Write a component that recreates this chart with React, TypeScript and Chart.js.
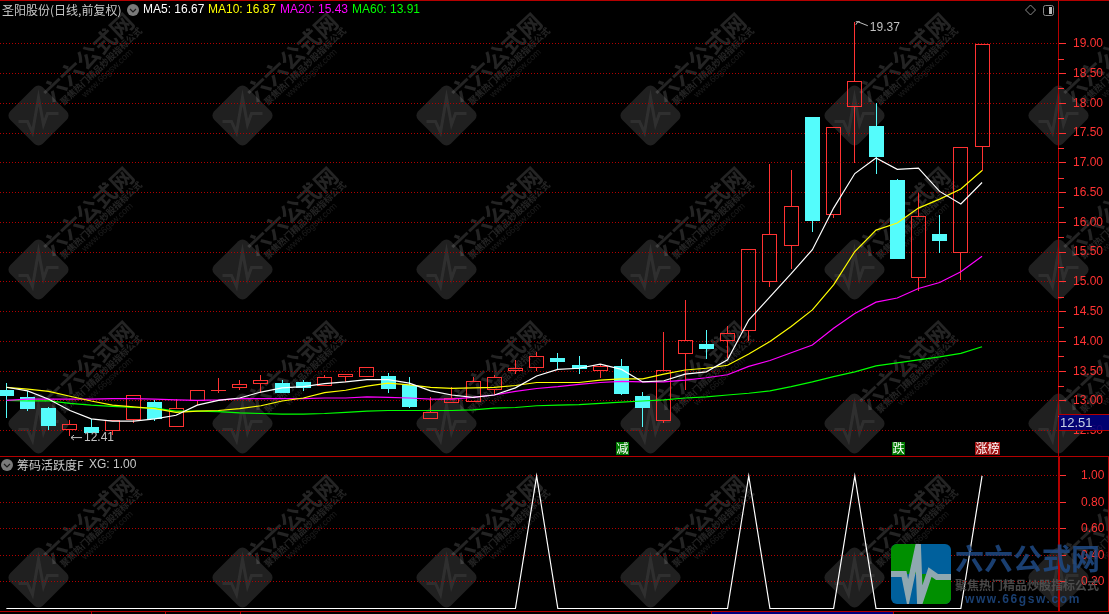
import React, { useEffect, useRef } from "react";
import { Chart, registerables } from "chart.js";

Chart.register(...registerables);

const STOCK_TITLE = "圣阳股份(日线,前复权)";
const SUB_TITLE = "筹码活跃度F";

// one value per trading day, left to right
const opens = [13.19, 13.06, 12.88, 12.52, 12.56, 12.5, 12.68, 12.98, 12.57, 13.0, 13.16, 13.21, 13.28, 13.3, 13.32, 13.25, 13.41, 13.41, 13.42, 13.27, 12.7, 12.97, 12.99, 13.19, 13.5, 13.55, 13.72, 13.6, 13.5, 13.59, 13.08, 12.67, 13.79, 13.96, 14.0, 14.17, 15.0, 15.61, 17.77, 16.12, 17.93, 17.62, 16.71, 15.06, 15.8, 15.49, 17.26];
const closes = [13.09, 12.87, 12.58, 12.61, 12.46, 12.68, 13.1, 12.7, 12.88, 13.18, 13.18, 13.28, 13.36, 13.14, 13.21, 13.41, 13.45, 13.57, 13.2, 12.9, 12.81, 13.05, 13.33, 13.4, 13.55, 13.75, 13.66, 13.53, 13.58, 13.12, 12.88, 13.52, 14.02, 13.87, 14.14, 15.55, 15.8, 16.27, 16.03, 17.61, 18.37, 17.1, 15.39, 16.1, 15.69, 17.27, 18.99];
const highs = [13.31, 13.17, 12.9, 12.68, 12.7, 12.68, 13.1, 13.02, 13.03, 13.18, 13.39, 13.35, 13.44, 13.36, 13.35, 13.44, 13.45, 13.57, 13.47, 13.4, 13.07, 13.24, 13.4, 13.44, 13.69, 13.82, 13.8, 13.76, 13.62, 13.71, 13.15, 14.16, 14.7, 14.19, 14.26, 15.55, 16.98, 16.88, 17.77, 17.61, 19.37, 18.0, 16.73, 16.49, 16.12, 17.27, 18.99];
const lows = [12.72, 12.84, 12.51, 12.41, 12.46, 12.43, 12.63, 12.66, 12.57, 12.93, 13.13, 13.18, 13.14, 13.14, 13.16, 13.25, 13.32, 13.41, 13.14, 12.88, 12.7, 12.97, 12.99, 13.11, 13.46, 13.51, 13.53, 13.46, 13.39, 13.1, 12.56, 12.63, 13.18, 13.71, 13.72, 14.01, 14.91, 15.22, 15.84, 16.07, 16.99, 16.82, 15.39, 14.85, 15.49, 15.03, 16.87];

const ma5 = [13.23, 13.17, 13.03, 12.84, 12.7, 12.66, 12.66, 12.7, 12.76, 12.93, 13.01, 13.05, 13.15, 13.22, 13.24, 13.29, 13.32, 13.36, 13.36, 13.3, 13.17, 13.1, 13.06, 13.1, 13.22, 13.42, 13.53, 13.55, 13.62, 13.53, 13.32, 13.34, 13.45, 13.49, 13.69, 14.36, 14.75, 15.14, 15.54, 16.24, 16.82, 17.08, 16.89, 16.91, 16.52, 16.31, 16.67];
const ma10 = [13.23, 13.2, 13.16, 13.08, 13.0, 12.93, 12.9, 12.87, 12.81, 12.83, 12.84, 12.87, 12.92, 13.0, 13.05, 13.14, 13.18, 13.25, 13.3, 13.27, 13.23, 13.21, 13.22, 13.23, 13.26, 13.31, 13.31, 13.31, 13.35, 13.37, 13.37, 13.45, 13.52, 13.55, 13.6, 13.79, 14.0, 14.25, 14.53, 14.95, 15.51, 15.87, 15.99, 16.24, 16.39, 16.56, 16.87];
const ma20 = [13.01, 13.03, 13.03, 13.03, 13.03, 13.04, 13.04, 13.03, 13.02, 13.01, 13.02, 13.04, 13.04, 13.04, 13.04, 13.05, 13.05, 13.07, 13.06, 13.05, 13.03, 13.03, 13.06, 13.1, 13.16, 13.21, 13.24, 13.28, 13.31, 13.33, 13.32, 13.32, 13.35, 13.39, 13.44, 13.58, 13.68, 13.81, 13.94, 14.22, 14.47, 14.66, 14.73, 14.89, 14.99, 15.17, 15.43];
const ma60 = [13.01, 13.0, 13.0, 12.96, 12.93, 12.91, 12.89, 12.88, 12.83, 12.83, 12.82, 12.8, 12.79, 12.78, 12.78, 12.79, 12.81, 12.83, 12.84, 12.84, 12.84, 12.84, 12.85, 12.88, 12.89, 12.92, 12.93, 12.94, 12.96, 12.98, 13.0, 13.02, 13.05, 13.07, 13.1, 13.13, 13.17, 13.24, 13.32, 13.41, 13.49, 13.59, 13.64, 13.69, 13.74, 13.8, 13.91];
const xg = [0, 0, 0, 0, 0, 0, 0, 0, 0, 0, 0, 0, 0, 0, 0, 0, 0, 0, 0, 0, 0, 0, 0, 0, 0, 1, 0, 0, 0, 0, 0, 0, 0, 0, 0, 1, 0, 0, 0, 0, 1, 0, 0, 0, 0, 0, 1];

const priceTicks = [12.5, 13, 13.5, 14, 14.5, 15, 15.5, 16, 16.5, 17, 17.5, 18, 18.5, 19];
const priceMinorTicks = [12.75, 13.25, 13.75, 14.25, 14.75, 15.25, 15.75, 16.25, 16.75, 17.25, 17.75, 18.25, 18.75];
const subTicks = [0.2, 0.4, 0.6, 0.8, 1.0];
const latestPriceTag = 12.51;
const signalTags = [
  { day: 29, text: "减", bg: "#007a00", w: 13 },
  { day: 42, text: "跌", bg: "#007a00", w: 13 },
  { day: 46, text: "涨榜", bg: "#a01414", w: 25 },
];

const RED = "#ff3232";
const CYAN = "#54fcfc";
const LINE_RED = "#b40000";
const GRID_RED = "#b00000";
const CJK = '"Noto Sans CJK SC"';
const LATIN = '"Liberation Sans"';
const days = opens.map((_, i) => i);
const isUp = (i: number) => closes[i] >= opens[i];
const candleColor = (i: number) => (isUp(i) ? RED : CYAN);
const pts = (v: number[]) => v.map((y, x) => ({ x, y }));

const snapBars = {
  id: "snapBars",
  afterDatasetsUpdate(chart: any) {
    chart.data.datasets.forEach((ds: any, d: number) => {
      if (ds.type !== "bar") return;
      chart.getDatasetMeta(d).data.forEach((el: any) => {
        el.x = Math.round(el.x - 0.5) + 0.5;
        el.y = Math.round(el.y);
        el.base = Math.round(el.base);
      });
    });
  },
};

function text(ctx: any, s: string, x: number, y: number, color: string, font: string) {
  ctx.fillStyle = color;
  ctx.font = font;
  ctx.textAlign = "left";
  ctx.textBaseline = "middle";
  ctx.fillText(s, x, y);
}

function rrect(ctx: any, x: number, y: number, w: number, h: number, r: number) {
  ctx.beginPath();
  ctx.roundRect(x, y, w, h, r);
}

function drawWatermark(ctx: any, cx: number, cy: number) {
  ctx.save();
  ctx.translate(cx, cy);
  ctx.save();
  ctx.rotate(-Math.PI / 4);
  rrect(ctx, -23, -23, 46, 46, 6);
  ctx.fillStyle = "rgba(255,255,255,0.125)";
  ctx.fill();
  ctx.restore();
  ctx.strokeStyle = "rgba(255,255,255,0.07)";
  ctx.lineWidth = 3;
  ctx.beginPath();
  ctx.moveTo(-20, 6);
  ctx.lineTo(-11, 6);
  ctx.lineTo(-6, 17);
  ctx.lineTo(0, -18);
  ctx.lineTo(5, 9);
  ctx.lineTo(9, -2);
  ctx.lineTo(20, -2);
  ctx.stroke();
  const label = (s: string, dx: number, dy: number, font: string, a: number) => {
    ctx.save();
    ctx.translate(dx, dy);
    ctx.rotate(-Math.PI * 0.24);
    ctx.fillStyle = `rgba(255,255,255,${a})`;
    ctx.font = font;
    ctx.textAlign = "center";
    ctx.textBaseline = "middle";
    ctx.fillText(s, 0, 0);
    ctx.restore();
  };
  label("六六公式网", 49.5, -58.5, `bold 23px ${CJK}`, 0.14);
  label("聚焦热门精品炒股指标公式", 62.5, -49.5, `bold 9px ${CJK}`, 0.14);
  label("www.66gsw.com", 69, -42, `9px ${LATIN}`, 0.1);
  ctx.restore();
}

function drawLogo(ctx: any) {
  const x = 891, y = 544, s = 60;
  ctx.save();
  rrect(ctx, x, y, s, s, 6);
  ctx.clip();
  ctx.fillStyle = "#00609c";
  ctx.fillRect(x, y, s, s);
  ctx.fillStyle = "#008f00";
  ctx.fillRect(x, y, 26, 30);
  ctx.fillRect(x + 26, y + 30, 34, 30);
  ctx.strokeStyle = "#8fa8b0";
  ctx.lineWidth = 6;
  ctx.beginPath();
  ctx.moveTo(x - 2, y + 30);
  ctx.lineTo(x + 13, y + 30);
  ctx.lineTo(x + 17, y + 50);
  ctx.lineTo(x + 27, y + 3);
  ctx.lineTo(x + 29, y + 58);
  ctx.lineTo(x + 39, y + 28);
  ctx.lineTo(x + 46, y + 33);
  ctx.lineTo(x + 62, y + 33);
  ctx.stroke();
  ctx.restore();
  ctx.save();
  ctx.globalAlpha = 0.85;
  text(ctx, "六六公式网", 955, 559, "#1f4a85", `bold 29px ${CJK}`);
  text(ctx, "聚焦热门精品炒股指标公式", 955, 585, "#555555", `bold 12px ${CJK}`);
  ctx.letterSpacing = "1.6px";
  text(ctx, "www.66gsw.com", 965, 600, "#1f4a85", `bold 12px ${LATIN}`);
  ctx.letterSpacing = "0px";
  ctx.restore();
}

const overlay = {
  id: "overlay",
  afterDraw(chart: any) {
    const { ctx, width, scales } = chart;
    const { x: xs, y: ys } = scales;
    ctx.save();

    // frame
    ctx.fillStyle = LINE_RED;
    ctx.fillRect(0, 0, width, 1);
    ctx.fillRect(0, 456, width, 1);
    ctx.fillRect(0, 611, width, 1);
    ctx.fillRect(1059, 457, 1, 154);
    ctx.fillRect(1108, 457, 1, 154);
    ctx.fillRect(1058, 0, 1, 611);
    [91, 165, 240, 711, 893].forEach((tx) => ctx.fillRect(tx, 611, 1, 3));
    ctx.fillStyle = "#00007c";
    ctx.fillRect(712, 612, 181, 2);

    // minor ticks on the price axis
    ctx.fillStyle = RED;
    priceMinorTicks.forEach((v) => ctx.fillRect(1058, Math.round(ys.getPixelForValue(v)), 6, 1));

    // legend rows
    text(ctx, STOCK_TITLE, 2, 10, "#c8c8c8", `12px ${CJK}`);
    const chevron = (cx: number, cy: number) => {
      ctx.fillStyle = "#7a7a7a";
      ctx.beginPath();
      ctx.arc(cx, cy, 6, 0, Math.PI * 2);
      ctx.fill();
      ctx.strokeStyle = "#1c1c1c";
      ctx.lineWidth = 1.2;
      ctx.beginPath();
      ctx.moveTo(cx - 3, cy - 1);
      ctx.lineTo(cx, cy + 2);
      ctx.lineTo(cx + 3, cy - 1);
      ctx.stroke();
    };
    chevron(133, 10);
    chevron(7, 465);
    const f = `12px ${LATIN}`;
    text(ctx, `MA5: ${ma5[46].toFixed(2)}`, 143, 10, "#ffffff", f);
    text(ctx, `MA10: ${ma10[46].toFixed(2)}`, 208, 10, "#ffff00", f);
    text(ctx, `MA20: ${ma20[46].toFixed(2)}`, 280, 10, "#ff00ff", f);
    text(ctx, `MA60: ${ma60[46].toFixed(2)}`, 352, 10, "#00ff00", f);
    text(ctx, SUB_TITLE, 17, 465, "#c8c8c8", `12px ${CJK}`);
    text(ctx, `XG: ${xg[46].toFixed(2)}`, 89, 465, "#c8c8c8", f);

    // top-right icons
    ctx.strokeStyle = "#8a8a8a";
    ctx.lineWidth = 1;
    ctx.beginPath();
    ctx.moveTo(1030.5, 5);
    ctx.lineTo(1035.5, 10);
    ctx.lineTo(1030.5, 15);
    ctx.lineTo(1025.5, 10);
    ctx.closePath();
    ctx.stroke();
    rrect(ctx, 1043.5, 5.5, 10, 10, 2);
    ctx.stroke();
    ctx.fillStyle = "#bdbdbd";
    ctx.fillRect(1049, 7, 3, 7);

    // high / low call-outs
    const hi = Math.max(...highs);
    const lo = Math.min(...lows);
    const hx = xs.getPixelForValue(highs.indexOf(hi));
    const hy = ys.getPixelForValue(hi);
    const lx = xs.getPixelForValue(lows.indexOf(lo));
    const ly = ys.getPixelForValue(lo);
    ctx.strokeStyle = "#c0c0c0";
    ctx.lineWidth = 1;
    ctx.beginPath();
    ctx.moveTo(hx + 1, hy + 3);
    ctx.lineTo(hx + 3, hy);
    ctx.lineTo(hx + 13, hy + 4);
    ctx.moveTo(hx + 1, hy);
    ctx.lineTo(hx + 5, hy);
    ctx.moveTo(lx + 4, ly - 1);
    ctx.lineTo(lx + 1, ly + 1.5);
    ctx.lineTo(lx + 4, ly + 4);
    ctx.moveTo(lx + 1, ly + 1.5);
    ctx.lineTo(lx + 12, ly + 1.5);
    ctx.stroke();
    text(ctx, hi.toFixed(2), hx + 15, hy + 6, "#c0c0c0", f);
    text(ctx, lo.toFixed(2), lx + 14, ly + 2, "#c0c0c0", f);

    // signal tags
    signalTags.forEach((t) => {
      const left = t.w > 13 ? Math.round(xs.getPixelForValue(t.day)) - 7 : Math.round(xs.getPixelForValue(t.day)) - 5;
      ctx.fillStyle = t.bg;
      ctx.fillRect(left, 442, t.w, 13);
      text(ctx, t.text, left + 0.5, 448.5, "#ffffff", `12px ${CJK}`);
    });

    // latest price tag
    ctx.fillStyle = "rgba(0,0,124,0.9)";
    ctx.fillRect(1059, 414, 50, 16);
    ctx.fillStyle = LINE_RED;
    ctx.fillRect(1058, 414, 51, 1);
    ctx.fillRect(1058, 430, 51, 1);
    text(ctx, latestPriceTag.toFixed(2), 1060, 423, "#c8d2e6", `13px ${LATIN}`);

    drawLogo(ctx);
    ctx.restore();
  },
};

const backdrop = {
  id: "backdrop",
  beforeDraw(chart: any) {
    const ctx = chart.ctx;
    ctx.fillStyle = "#000";
    ctx.fillRect(0, 0, chart.width, chart.height);
    // site watermark, under the grid and candles
    [38.5, 242.5, 446.5, 650.5, 854.5, 1058.5].forEach((cx) =>
      [115.5, 269.5, 423.5, 577.5].forEach((cy) => drawWatermark(ctx, cx, cy))
    );
  },
};

const barBase = (label: string, order: number, thickness: number) => ({
  type: "bar" as const,
  label,
  order,
  yAxisID: "y",
  grouped: false,
  barThickness: thickness,
  borderSkipped: false,
  inflateAmount: 0,
});

const lineBase = (label: string, data: number[], color: string, order: number, yAxisID = "y") => ({
  type: "line" as const,
  label,
  data: pts(data),
  yAxisID,
  order,
  borderColor: color,
  borderWidth: 1.2,
  pointRadius: 0,
  tension: 0,
  fill: false,
});

const yAxis = (ticks: number[], min: number, max: number, weight: number, padding: number, order: number) => ({
  type: "linear" as const,
  position: "right" as const,
  stack: "panels",
  stackWeight: weight,
  weight: order,
  min,
  max,
  afterBuildTicks: (s: any) => {
    s.ticks = ticks.map((value) => ({ value }));
  },
  afterFit: (s: any) => {
    s.width = 51;
    s.paddingTop = 0;
    s.paddingBottom = 0;
  },
  border: { display: false, dash: [1, 2] },
  grid: {
    color: GRID_RED,
    tickColor: RED,
    tickLength: 8,
    tickBorderDash: [],
    lineWidth: 1,
    z: -1,
  },
  ticks: {
    color: RED,
    padding,
    crossAlign: "near" as const,
    autoSkip: false,
    maxRotation: 0,
    font: { family: "Liberation Sans", size: 12 },
    callback: (v: any) => Number(v).toFixed(2),
  },
});

export default function App() {
  const ref = useRef<HTMLCanvasElement>(null);
  useEffect(() => {
    const chart = new Chart(ref.current as HTMLCanvasElement, {
      type: "bar",
      data: {
        datasets: [
          lineBase("MA60", ma60, "#00ff00", 4),
          lineBase("MA20", ma20, "#ff00ff", 3),
          lineBase("MA10", ma10, "#ffff00", 2),
          lineBase("MA5", ma5, "#ffffff", 1),
          lineBase("XG", xg, "#ffffff", 1, "sub"),
          {
            ...barBase("上影", 10, 1),
            data: days.map((i) => ({ x: i, y: [Math.max(opens[i], closes[i]), highs[i]] })),
            backgroundColor: days.map(candleColor),
          },
          {
            ...barBase("下影", 10, 1),
            data: days.map((i) => ({ x: i, y: [lows[i], Math.min(opens[i], closes[i])] })),
            backgroundColor: days.map(candleColor),
          },
          {
            ...barBase("K线", 9, 15),
            data: days.map((i) => ({ x: i, y: [opens[i], closes[i]] })),
            backgroundColor: days.map((i) => (isUp(i) ? "rgba(0,0,0,0)" : CYAN)),
            borderColor: days.map(candleColor),
            borderWidth: 1,
          },
        ] as any,
      },
      options: {
        responsive: false,
        animation: false,
        layout: { padding: { top: 1, bottom: 3, left: 0, right: 0 } },
        plugins: { legend: { display: false }, tooltip: { enabled: false } },
        scales: {
          x: { type: "linear", display: false, offset: false, min: -0.3, max: 49.58, grid: { display: false } },
          y: yAxis(priceTicks, 12.059, 19.718, 456, 7, 0),
          sub: yAxis(subTicks, -0.0189, 1.143, 154, 15, 1),
        } as any,
      },
      plugins: [backdrop, snapBars, overlay],
    });
    return () => chart.destroy();
  }, []);
  return (
    <div style={{ position: "fixed", left: 0, top: 0, width: 1109, height: 614, background: "#000" }}>
      <canvas ref={ref} width={1109} height={614} style={{ display: "block", width: 1109, height: 614 }} />
    </div>
  );
}
